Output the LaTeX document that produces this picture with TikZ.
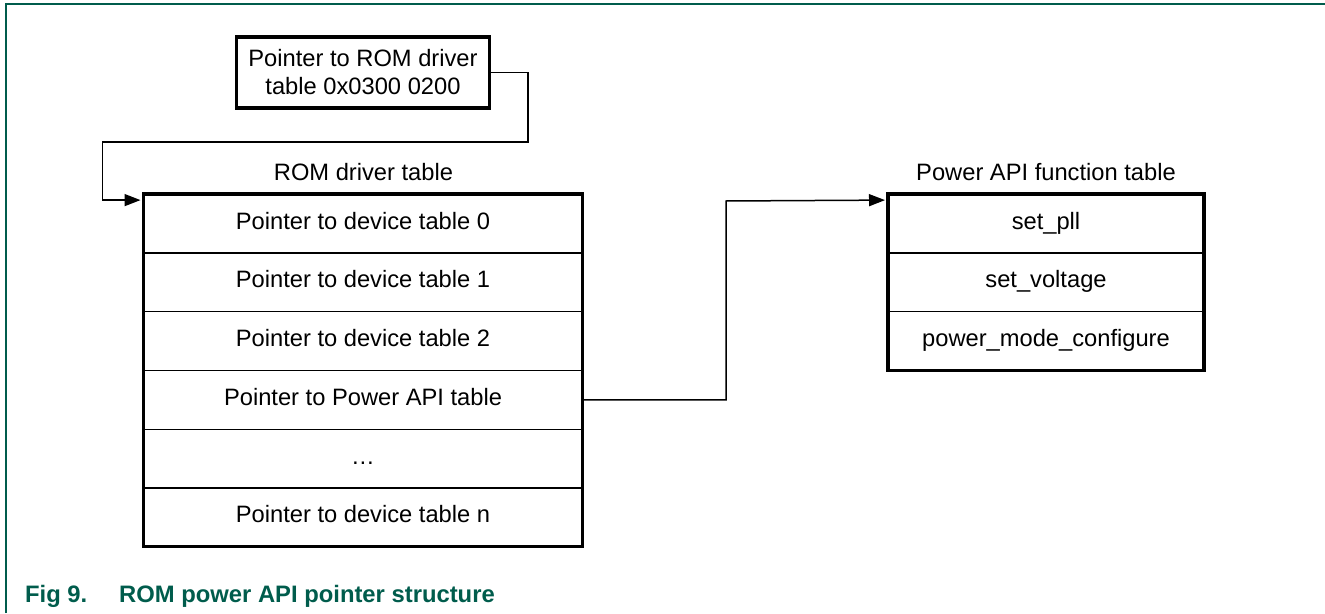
\documentclass[tikz,border=0pt]{standalone}
\usepackage{fontspec}
\setmainfont{Liberation Sans}
\usetikzlibrary{arrows.meta,calc}
\definecolor{nxpgreen}{RGB}{0,92,76}
\begin{document}
\begin{tikzpicture}[x=1pt,y=-1pt,
  txt/.style={font=\fontsize{23.7}{28}\selectfont, inner sep=0pt, outer sep=0pt},
  cell/.style={txt, draw, line width=1.4pt, minimum height=58.8pt, align=center, text height=17pt, text depth=6pt},
  lcell/.style={cell, minimum width=439pt},
  pcell/.style={cell, minimum width=316pt},
  outline/.style={line width=3.3pt},
  conn/.style={line width=1.5pt},
  tip/.style={conn, -{Triangle[length=16pt,width=12pt]}},
  captxt/.style={font=\bfseries\fontsize{23.8}{28}\selectfont, text=nxpgreen, inner sep=0pt, anchor=base west}
]
\useasboundingbox (0,0) rectangle (1325,613);
% frame
\draw[nxpgreen, line width=1.5pt] (6,613) -- (6,4) -- (1325,4);

% top box
\node[txt, draw, outline, minimum width=253pt, minimum height=71pt, align=center] (top) at (363,72.5)
  {Pointer to ROM driver\\table 0x0300 0200};

% ROM driver table
\node[txt, anchor=base] (lt) at (363.5,180) {ROM driver table};
\node[lcell] (r0) at (363,223.5) {Pointer to device table 0};
\node[lcell] (r1) at (363,282.2) {Pointer to device table 1};
\node[lcell] (r2) at (363,341.0) {Pointer to device table 2};
\node[lcell] (r3) at (363,399.8) {Pointer to Power API table};
\node[lcell] (r4) at (363,458.6) {…};
\node[lcell] (r5) at (363,517.4) {Pointer to device table n};
\draw[outline] (r0.north west) rectangle (r5.south east);

% Power API function table
\node[txt, anchor=base] (pt) at (1046,180) {Power API function table};
\node[pcell] (p0) at (1046,223.5) {set\_pll};
\node[pcell] (p1) at (1046,282.2) {set\_voltage};
\node[pcell] (p2) at (1046,341.0) {power\_mode\_configure};
\draw[outline] (p0.north west) rectangle (p2.south east);

% connectors
\coordinate (k1) at (528,142);
\coordinate (k2) at (102.7,142);
\coordinate (e1) at ($(r0.north west)+(-3,6)$);
\draw[tip] (top.east) -| (k1) -- (k2) |- (e1);

\coordinate (k3) at (726,201);
\coordinate (e2) at ($(p0.north west)+(-3,6)$);
\draw[tip] (r3.east) -| (k3) -- (e2);

% caption
\node[captxt] (c1) at (25,602) {Fig 9.};
\node[captxt] (c2) at (119,602) {ROM power API pointer structure};
\end{tikzpicture}
\end{document}
